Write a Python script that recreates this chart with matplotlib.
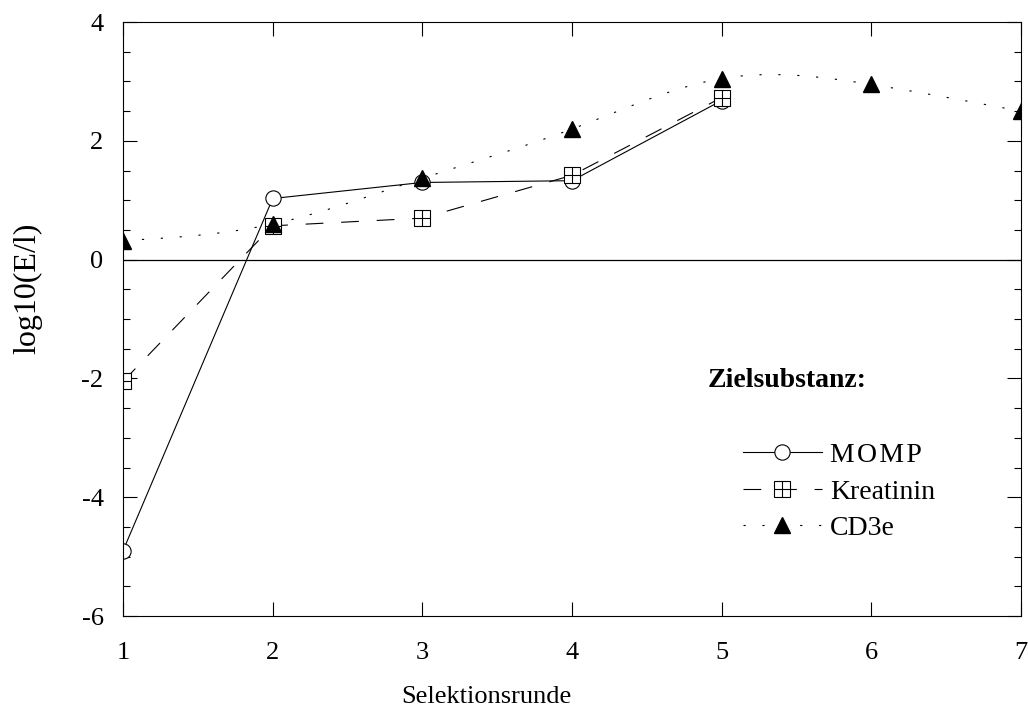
import numpy as np
import matplotlib.pyplot as plt
from matplotlib.ticker import MultipleLocator
from matplotlib.legend_handler import HandlerTuple

plt.rcParams['font.family'] = ['Liberation Serif', 'DejaVu Serif']
plt.rcParams['axes.unicode_minus'] = False

# Data
momp_x = [1, 2, 3, 4, 5]
momp_y = [-4.9, 1.03, 1.3, 1.33, 2.68]

kreat_x = [1, 2, 3, 4, 5]
kreat_y = [-2.05, 0.57, 0.7, 1.42, 2.73]

cd3e_x = [1, 2, 3, 4, 5, 6, 7]
cd3e_y = [0.32, 0.6, 1.37, 2.2, 3.05, 2.95, 2.5]

x_ticks = [1, 2, 3, 4, 5, 6, 7]
y_ticks = [-6, -4, -2, 0, 2, 4]
labels = ['M\u200aO\u200aM\u200aP', 'Kreatinin', 'CD3e']


def natural_spline(x, y, xs):
    # natural cubic spline through the measured points (smooth CD3e curve)
    x = np.asarray(x, float)
    y = np.asarray(y, float)
    n = len(x)
    h = np.diff(x)
    A = np.zeros((n, n))
    b = np.zeros(n)
    A[0, 0] = A[-1, -1] = 1
    for i in range(1, n - 1):
        A[i, i - 1] = h[i - 1]
        A[i, i] = 2 * (h[i - 1] + h[i])
        A[i, i + 1] = h[i]
        b[i] = 6 * ((y[i + 1] - y[i]) / h[i] - (y[i] - y[i - 1]) / h[i - 1])
    M = np.linalg.solve(A, b)
    idx = np.clip(np.searchsorted(x, xs) - 1, 0, n - 2)
    x0, x1 = x[idx], x[idx + 1]
    hh = x1 - x0
    t0, t1 = x1 - xs, xs - x0
    return (M[idx] * t0**3 / (6 * hh) + M[idx + 1] * t1**3 / (6 * hh)
            + (y[idx] / hh - M[idx] * hh / 6) * t0
            + (y[idx + 1] / hh - M[idx + 1] * hh / 6) * t1)


fig = plt.figure(figsize=(10.28, 7.13), dpi=100)
ax = fig.add_axes([0.1197, 0.136, 0.8735, 0.833])

ax.axhline(0, color='black', lw=0.9, zorder=1)

# MOMP
l_momp, = ax.plot(momp_x, momp_y, '-', color='black', lw=0.8,
                  marker='o', ms=11, mfc='white', mec='black', mew=0.8)

# Kreatinin (square with cross)
l_kreat, = ax.plot(kreat_x, kreat_y, color='black', lw=0.8, dashes=(16, 16),
                   marker='s', ms=11, mfc='white', mec='black', mew=0.8)
l_plus, = ax.plot(kreat_x, kreat_y, ls='none', marker='+', ms=11,
                  mec='black', mew=0.8)

# CD3e (smooth dotted curve)
xs = np.linspace(cd3e_x[0], cd3e_x[-1], 400)
ax.plot(xs, natural_spline(cd3e_x, cd3e_y, xs), color='black',
        lw=0.8, dashes=(2, 15))
ax.plot(cd3e_x, cd3e_y, ls='none', marker='^', ms=11,
        mfc='black', mec='black')
l_cd3e_leg, = ax.plot([], [], color='black', lw=0.8, dashes=(2, 15),
                      marker='^', ms=11, mfc='black', mec='black')

ax.set_xlim(1, 7)
ax.set_ylim(-6, 4)
ax.set_xticks(x_ticks)
ax.set_yticks(y_ticks)
ax.yaxis.set_minor_locator(MultipleLocator(0.5))
ax.tick_params(which='both', direction='in', top=True, right=True, width=0.8)
ax.tick_params(which='major', length=10, labelsize=19)
ax.tick_params(which='minor', length=5)
ax.tick_params(axis='x', pad=19)
ax.tick_params(axis='y', pad=14)
for s in ax.spines.values():
    s.set_linewidth(0.8)

ax.set_xlabel('Selektionsrunde', fontsize=19)
ax.set_ylabel('log10(E/l)', fontsize=23)
ax.xaxis.set_label_coords(0.405, -0.118)
ax.yaxis.set_label_coords(-0.090, 0.552)

ax.text(0.651, 0.396, 'Zielsubstanz:', transform=ax.transAxes, fontsize=20,
        fontweight='bold', ha='left', va='center')

ax.legend([l_momp, (l_kreat, l_plus), l_cd3e_leg], labels,
          handler_map={tuple: HandlerTuple(ndivide=1)},
          loc='upper left', bbox_to_anchor=(0.69, 0.292), borderaxespad=0,
          borderpad=0, frameon=False, fontsize=20, numpoints=1,
          handlelength=2.85, handletextpad=0.3, labelspacing=0.4)

plt.savefig('out.png', dpi=100)
